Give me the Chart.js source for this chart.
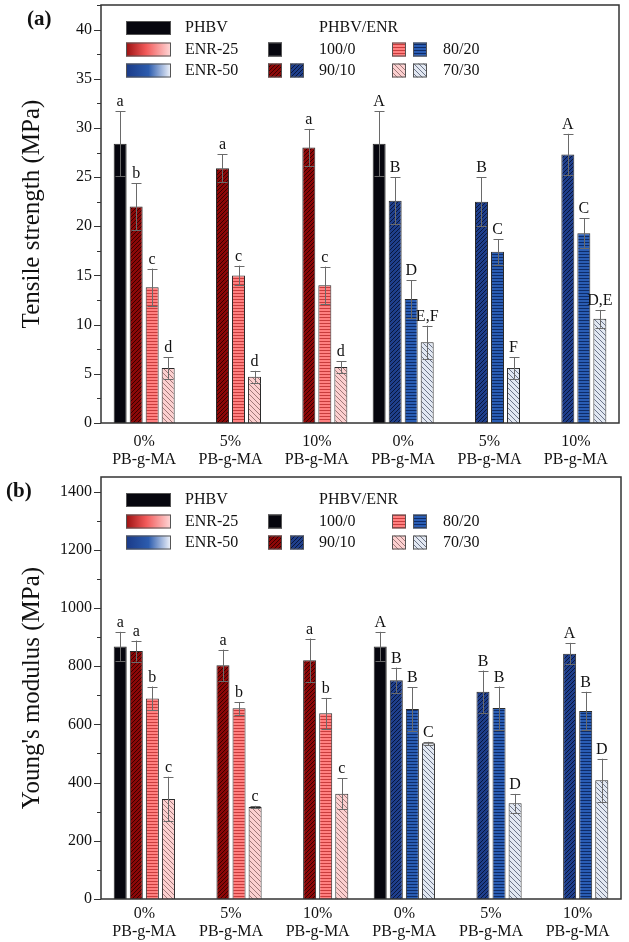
<!DOCTYPE html>
<html>
<head>
<meta charset="utf-8">
<script src="https://cdn.jsdelivr.net/npm/chart.js@4"></script>
<style>
  body { margin: 0; background: #fff; }
  .panel { width: 629px; height: 471px; }
</style>
</head>
<body>
<div class="panel"><canvas id="chartA" width="629" height="471"></canvas></div>
<div class="panel"><canvas id="chartB" width="629" height="471"></canvas></div>
<script>
/*******************************************************
 * DATA
 *******************************************************/
const GROUP_LABELS = [
  ["0%", "PB-g-MA"], ["5%", "PB-g-MA"], ["10%", "PB-g-MA"],
  ["0%", "PB-g-MA"], ["5%", "PB-g-MA"], ["10%", "PB-g-MA"]
];
const BLEND_LABELS = ["100/0", "90/10", "80/20", "70/30"];

// (a) tensile strength, MPa
const TENSILE_100_0 = [28.4, null, null, 28.4, null, null];
const TENSILE_90_10 = [22.0, 25.9, 28.0, 22.6, 22.5, 27.3];
const TENSILE_80_20 = [13.8, 15.0, 14.0, 12.6, 17.4, 19.3];
const TENSILE_70_30 = [5.6, 4.7, 5.7, 8.2, 5.6, 10.6];
const TENSILE_ERR_100_0 = [3.3, null, null, 3.3, null, null];
const TENSILE_ERR_90_10 = [2.4, 1.4, 1.9, 2.4, 2.5, 2.1];
const TENSILE_ERR_80_20 = [1.9, 1.0, 1.9, 1.9, 1.3, 1.5];
const TENSILE_ERR_70_30 = [1.1, 0.6, 0.6, 1.7, 1.1, 0.9];
const TENSILE_LETTERS_100_0 = ["a", "", "", "A", "", ""];
const TENSILE_LETTERS_90_10 = ["b", "a", "a", "B", "B", "A"];
const TENSILE_LETTERS_80_20 = ["c", "c", "c", "D", "C", "C"];
const TENSILE_LETTERS_70_30 = ["d", "d", "d", "E,F", "F", "D,E"];

// (b) Young's modulus, MPa
const MODULUS_100_0 = [868, null, null, 868, null, null];
const MODULUS_90_10 = [852, 803, 820, 752, 712, 843];
const MODULUS_80_20 = [689, 655, 638, 653, 656, 646];
const MODULUS_70_30 = [344, 316, 362, 535, 329, 408];
const MODULUS_ERR_100_0 = [50, null, null, 50, null, null];
const MODULUS_ERR_90_10 = [36, 54, 75, 43, 73, 37];
const MODULUS_ERR_80_20 = [41, 22, 53, 75, 74, 66];
const MODULUS_ERR_70_30 = [76, 4, 53, 5, 32, 74];
const MODULUS_LETTERS_100_0 = ["a", "", "", "A", "", ""];
const MODULUS_LETTERS_90_10 = ["a", "a", "a", "B", "B", "A"];
const MODULUS_LETTERS_80_20 = ["b", "b", "b", "B", "B", "B"];
const MODULUS_LETTERS_70_30 = ["c", "c", "c", "C", "D", "D"];

/*******************************************************
 * FILLS
 *******************************************************/
const SERIF = '"Liberation Serif", "Times New Roman", serif';
const scratch = document.getElementById("chartA").getContext("2d");

function makePattern(bg, line, kind, gap) {
  const c = document.createElement("canvas");
  c.width = gap; c.height = gap;
  const g = c.getContext("2d");
  g.fillStyle = bg;
  g.fillRect(0, 0, gap, gap);
  g.strokeStyle = line;
  g.lineWidth = 1;
  g.beginPath();
  if (kind === "fwd") {
    for (let k = -1; k <= 1; k++) { g.moveTo(k * gap, gap); g.lineTo(k * gap + gap, 0); }
  } else if (kind === "back") {
    for (let k = -1; k <= 1; k++) { g.moveTo(k * gap, 0); g.lineTo(k * gap + gap, gap); }
  } else {
    g.moveTo(0, gap - 0.5); g.lineTo(gap, gap - 0.5);
  }
  g.stroke();
  return scratch.createPattern(c, "repeat");
}

const BLACK = "#06060e";
const RED_90 = makePattern("#8c0808", "#380000", "fwd", 4);
const RED_80 = makePattern("#ff8080", "#c83c3c", "horiz", 3);
const RED_70 = makePattern("#fcd0d0", "#a07878", "back", 5);
const BLUE_90 = makePattern("#1f3f8c", "#08163c", "fwd", 4);
const BLUE_80 = makePattern("#2a5db4", "#0e2c68", "horiz", 3);
const BLUE_70 = makePattern("#e2e8f2", "#6c7488", "back", 5);

const perGroup = (red, blue) => [red, red, red, blue, blue, blue];
const FILLS = [
  perGroup(BLACK, BLACK),
  perGroup(RED_90, BLUE_90),
  perGroup(RED_80, BLUE_80),
  perGroup(RED_70, BLUE_70)
];

/*******************************************************
 * DECORATION PLUGIN: error bars, letters, frame, legend
 *******************************************************/
const decor = {
  id: "decor",
  afterDatasetsDraw(chart, args, opts) {
    const ctx = chart.ctx;
    const y = chart.scales.y;
    ctx.save();
    chart.data.datasets.forEach((ds, di) => {
      const meta = chart.getDatasetMeta(di);
      ds.data.forEach((v, i) => {
        if (v === null) return;
        const bar = meta.data[i];
        const e = opts.errors[di][i];
        const yHi = y.getPixelForValue(v + e);
        const yLo = y.getPixelForValue(v - e);
        const x = Math.round(bar.x) + 0.5;
        ctx.strokeStyle = "#6a6a6a";
        ctx.lineWidth = 1;
        ctx.beginPath();
        ctx.moveTo(x, yHi); ctx.lineTo(x, yLo);
        ctx.moveTo(x - 5, Math.round(yHi) + 0.5); ctx.lineTo(x + 5, Math.round(yHi) + 0.5);
        ctx.moveTo(x - 5, Math.round(yLo) + 0.5); ctx.lineTo(x + 5, Math.round(yLo) + 0.5);
        ctx.stroke();
        ctx.fillStyle = "#111";
        ctx.font = "16px " + SERIF;
        ctx.textAlign = "center";
        ctx.textBaseline = "alphabetic";
        ctx.fillText(opts.letters[di][i], bar.x, yHi - 5);
      });
    });
    ctx.restore();
  },
  afterDraw(chart, args, opts) {
    const ctx = chart.ctx;
    const a = chart.chartArea;
    const y = chart.scales.y;
    ctx.save();
    // frame
    ctx.strokeStyle = "#333";
    ctx.lineWidth = 1.5;
    ctx.strokeRect(a.left, a.top, a.right - a.left, a.bottom - a.top);
    // ticks, major and minor
    ctx.lineWidth = 1;
    ctx.beginPath();
    for (let v = 0; v <= y.max; v += opts.step / 2) {
      const py = Math.round(y.getPixelForValue(v)) + 0.5;
      const major = Math.abs(v / opts.step - Math.round(v / opts.step)) < 1e-6;
      ctx.moveTo(a.left - (major ? 7 : 4), py);
      ctx.lineTo(a.left, py);
    }
    ctx.stroke();
    // y title
    ctx.fillStyle = "#111";
    ctx.font = "25px " + SERIF;
    ctx.textAlign = "center";
    ctx.textBaseline = "middle";
    ctx.translate(32, (a.top + a.bottom) / 2);
    ctx.rotate(-Math.PI / 2);
    ctx.fillText(opts.title, 0, 0);
    ctx.restore();

    ctx.save();
    // panel tag
    ctx.fillStyle = "#111";
    ctx.font = "bold 21px " + SERIF;
    ctx.textAlign = "left";
    ctx.textBaseline = "middle";
    ctx.fillText(opts.tag, opts.tagX, a.top + 15);
    drawLegend(ctx, a.top);
    ctx.restore();
  }
};

function swatch(ctx, fill, x, y, w, h) {
  ctx.fillStyle = fill;
  ctx.fillRect(x, y, w, h);
  ctx.strokeStyle = "#555";
  ctx.lineWidth = 1;
  ctx.strokeRect(x + 0.5, y + 0.5, w - 1, h - 1);
}

function drawLegend(ctx, top) {
  const r1 = top + 23, r2 = top + 44.5, r3 = top + 65.5;
  // material swatches
  swatch(ctx, BLACK, 126, r1 - 7, 45, 14);
  let g = ctx.createLinearGradient(126, 0, 171, 0);
  g.addColorStop(0, "#9c1010"); g.addColorStop(0.45, "#f25a5a"); g.addColorStop(1, "#ffd8d8");
  swatch(ctx, g, 126, r2 - 7, 45, 14);
  g = ctx.createLinearGradient(126, 0, 171, 0);
  g.addColorStop(0, "#1a3a88"); g.addColorStop(0.5, "#2c5cae"); g.addColorStop(1, "#f2f5fc");
  swatch(ctx, g, 126, r3 - 7, 45, 14);
  ctx.fillStyle = "#111";
  ctx.font = "16px " + SERIF;
  ctx.textAlign = "left";
  ctx.textBaseline = "middle";
  ctx.fillText("PHBV", 185, r1);
  ctx.fillText("ENR-25", 185, r2);
  ctx.fillText("ENR-50", 185, r3);
  // composition swatches
  ctx.fillText("PHBV/ENR", 319, r1);
  swatch(ctx, BLACK, 268, r2 - 7, 14, 14);
  swatch(ctx, RED_90, 268, r3 - 7, 14, 14);
  swatch(ctx, BLUE_90, 290, r3 - 7, 14, 14);
  swatch(ctx, RED_80, 392, r2 - 7, 14, 14);
  swatch(ctx, BLUE_80, 413, r2 - 7, 14, 14);
  swatch(ctx, RED_70, 392, r3 - 7, 14, 14);
  swatch(ctx, BLUE_70, 413, r3 - 7, 14, 14);
  ctx.fillStyle = "#111";
  ctx.fillText(BLEND_LABELS[0], 319, r2);
  ctx.fillText(BLEND_LABELS[1], 319, r3);
  ctx.fillText(BLEND_LABELS[2], 443, r2);
  ctx.fillText(BLEND_LABELS[3], 443, r3);
}

/*******************************************************
 * CHARTS
 *******************************************************/
function buildChart(id, series, errors, letters, cfg) {
  const ctx = document.getElementById(id).getContext("2d");
  return new Chart(ctx, {
    type: "bar",
    data: {
      labels: GROUP_LABELS,
      datasets: series.map((d, i) => ({
        label: BLEND_LABELS[i],
        data: d,
        backgroundColor: FILLS[i],
        borderColor: "#2a2a2a",
        borderWidth: 1,
        categoryPercentage: 0.742,
        barPercentage: 0.81
      }))
    },
    plugins: [decor],
    options: {
      responsive: false,
      animation: false,
      layout: { padding: { top: cfg.top, right: cfg.right, left: 0, bottom: 0 } },
      plugins: {
        legend: { display: false },
        tooltip: { enabled: false },
        decor: { errors, letters, step: cfg.step, title: cfg.title, tag: cfg.tag, tagX: cfg.tagX }
      },
      scales: {
        x: {
          grid: { display: false, drawTicks: false },
          border: { display: false },
          ticks: {
            color: "#111",
            padding: cfg.xPad,
            maxRotation: 0,
            font: { family: SERIF, size: 16, lineHeight: 1.1 }
          },
          afterFit(s) {
            s.height = cfg.xHeight;
            s.paddingLeft = 0; s.paddingRight = 0;
          }
        },
        y: {
          min: 0,
          max: cfg.max,
          grid: { display: false, drawTicks: false },
          border: { display: false },
          ticks: {
            color: "#111",
            padding: 9,
            font: { family: SERIF, size: 16 },
            callback: v => String(v)
          },
          afterBuildTicks(s) {
            const list = [];
            for (let v = 0; v <= cfg.max; v += cfg.step) list.push({ value: v });
            s.ticks = list;
          },
          afterFit(s) {
            s.width = 101;
            s.paddingTop = 0; s.paddingBottom = 0;
          }
        }
      }
    }
  });
}

buildChart("chartA",
  [TENSILE_100_0, TENSILE_90_10, TENSILE_80_20, TENSILE_70_30],
  [TENSILE_ERR_100_0, TENSILE_ERR_90_10, TENSILE_ERR_80_20, TENSILE_ERR_70_30],
  [TENSILE_LETTERS_100_0, TENSILE_LETTERS_90_10, TENSILE_LETTERS_80_20, TENSILE_LETTERS_70_30],
  { max: 42.5, step: 5, top: 5, right: 10, xHeight: 48, xPad: 10,
    title: "Tensile strength (MPa)", tag: "(a)", tagX: 27 });

buildChart("chartB",
  [MODULUS_100_0, MODULUS_90_10, MODULUS_80_20, MODULUS_70_30],
  [MODULUS_ERR_100_0, MODULUS_ERR_90_10, MODULUS_ERR_80_20, MODULUS_ERR_70_30],
  [MODULUS_LETTERS_100_0, MODULUS_LETTERS_90_10, MODULUS_LETTERS_80_20, MODULUS_LETTERS_70_30],
  { max: 1450, step: 200, top: 6, right: 8, xHeight: 43, xPad: 6,
    title: "Young's modulus (MPa)", tag: "(b)", tagX: 6 });
</script>
</body>
</html>
